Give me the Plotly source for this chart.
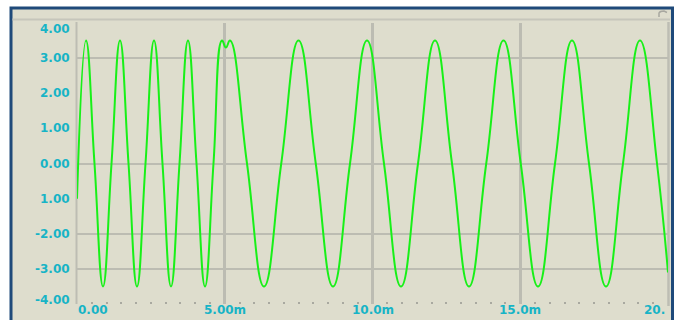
import plotly.graph_objects as go

# ---- data (time in ms, value in V) ----
t_ms = [0.0, 0.305, 0.592, 0.880, 1.168, 1.455, 1.743, 2.030, 2.318, 2.606,
        2.893, 3.181, 3.469, 3.756, 4.044, 4.332, 4.619, 4.907, 5.04, 5.178,
        5.753, 6.328, 6.912, 7.496, 8.080, 8.663, 9.239, 9.814, 10.389, 10.964,
        11.540, 12.115, 12.690, 13.266, 13.849, 14.433, 15.017, 15.601, 16.176,
        16.751, 17.327, 17.902, 18.477, 19.052, 19.628, 20.0]
volts = [-1.0, 3.5, 0.0, -3.5, 0.0, 3.5, 0.0, -3.5, 0.0, 3.5,
         0.0, -3.5, 0.0, 3.5, 0.0, -3.5, 0.0, 3.5, 3.3, 3.5,
         0.0, -3.5, 0.0, 3.5, 0.0, -3.5, 0.0, 3.5, 0.0, -3.5,
         0.0, 3.5, 0.0, -3.5, 0.0, 3.5, 0.0, -3.5, 0.0,
         3.5, 0.0, -3.5, 0.0, 3.5, 0.0, -3.1]

y_tick_vals = [4, 3, 2, 1, 0, -1, -2, -3, -4]
y_tick_text = ["4.00", "3.00", "2.00", "1.00", "0.00", "1.00", "-2.00", "-3.00", "-4.00"]
y_grid_vals = [3, 0, -2, -3]
x_tick_vals = [0, 5, 10, 15]
x_tick_text = ["0.00", "5.00m", "10.0m", "15.0m"]
x_end_text = "20."

W, H = 676, 320
L, R, T, B = 77, 668, 23, 304  # plot area in pixels

def px(xp):
    return (xp - L) / (R - L)

def py(yp):
    return (B - yp) / (B - T)

label_color = "#17b4c6"
label_font = dict(family="DejaVu Sans", size=12, color=label_color, weight="bold")
grid_color = "#bcbcb2"

fig = go.Figure()
fig.add_trace(go.Scatter(
    x=t_ms, y=volts, mode="lines",
    line=dict(color="#18f018", width=2, shape="spline", smoothing=1.3),
    hoverinfo="skip", showlegend=False,
))

shapes = [
    # panel background with blue frame
    dict(type="rect", xref="paper", yref="paper", layer="below",
         x0=px(11), x1=px(672.5), y0=py(8), y1=py(340),
         fillcolor="#deddcd", line=dict(color="#1f4a7a", width=3)),
    # top strip separator
    dict(type="line", xref="paper", yref="paper", layer="below",
         x0=px(12.5), x1=px(670), y0=py(19.5), y1=py(19.5),
         line=dict(color="#c6c6bb", width=2)),
    # left axis line
    dict(type="line", xref="paper", yref="paper", layer="below",
         x0=px(76.5), x1=px(76.5), y0=py(22), y1=py(304),
         line=dict(color="#bdbdb3", width=2)),
    # right boundary line
    dict(type="line", xref="paper", yref="paper", layer="below",
         x0=px(668.5), x1=px(668.5), y0=py(22), y1=py(306),
         line=dict(color="#bdbdb3", width=2.5)),
    # small icon top-right
    dict(type="path", xref="paper", yref="paper", layer="below",
         path=f"M {px(659)},{py(17)} L {px(659)},{py(13)} Q {px(660)},{py(11)} {px(664)},{py(11)} L {px(667)},{py(12.5)}",
         line=dict(color="#a8a8a0", width=1.5)),
]

annotations = []
for v, txt in zip(y_tick_vals, y_tick_text):
    ys = 0
    if v == 4:
        ys = -6
    elif v == -4:
        ys = 4
    annotations.append(dict(x=px(72), xref="paper", y=v, yref="y", yshift=ys,
                            text=txt, showarrow=False, xanchor="right",
                            yanchor="middle", font=label_font))
for v, txt in zip(x_tick_vals, x_tick_text):
    annotations.append(dict(x=v, xref="x", y=py(310), yref="paper",
                            text=txt, showarrow=False,
                            xanchor="left" if v == 0 else "center",
                            xshift=-1 if v == 0 else 0,
                            yanchor="middle", font=label_font))
annotations.append(dict(x=px(642), xref="paper", y=py(310), yref="paper",
                        text=x_end_text, showarrow=False, xanchor="left",
                        yanchor="middle", font=label_font))

fig.update_layout(
    width=W, height=H,
    margin=dict(l=L, r=W - R, t=T, b=H - B, pad=0),
    paper_bgcolor="white",
    plot_bgcolor="rgba(0,0,0,0)",
    shapes=shapes,
    annotations=annotations,
    xaxis=dict(range=[0, 20], showgrid=True, dtick=5, tick0=0,
               gridcolor=grid_color, gridwidth=2.5, zeroline=False,
               showline=False, showticklabels=False, ticks="",
               minor=dict(dtick=0.5, tick0=0, ticks="inside", ticklen=2,
                          tickwidth=2, tickcolor="#a9a9a0", showgrid=False),
               fixedrange=True),
    yaxis=dict(range=[-4, 4], tickmode="array", tickvals=y_grid_vals,
               showgrid=True, gridcolor=grid_color, gridwidth=2,
               zeroline=False, showline=False, showticklabels=False,
               ticks="", fixedrange=True),
)

fig.write_html(
    "out.html",
    config={"displayModeBar": False},
    post_script="document.body.style.margin='0';document.body.style.overflow='hidden';",
)
